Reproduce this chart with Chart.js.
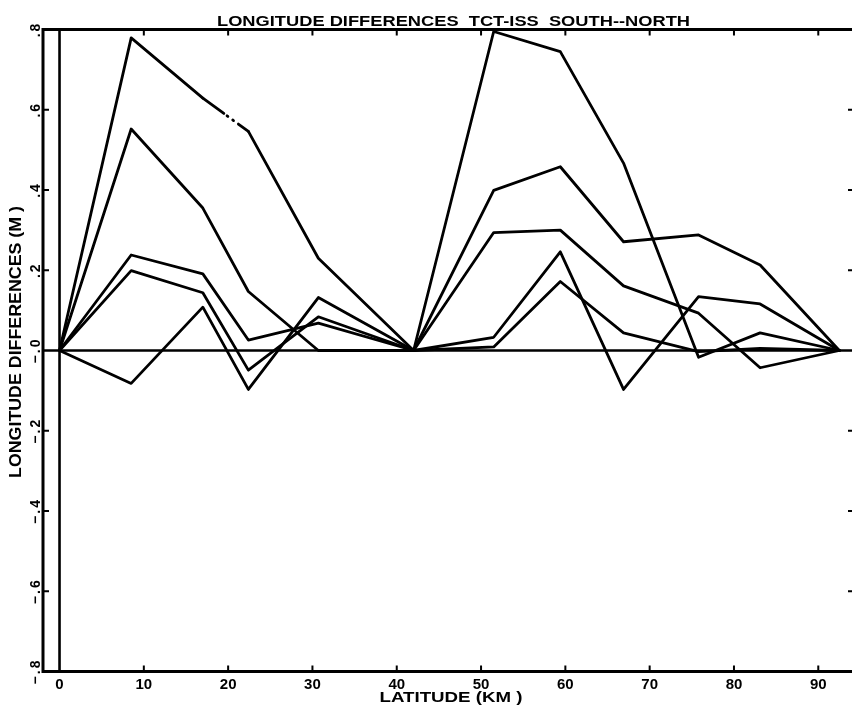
<!DOCTYPE html>
<html>
<head>
<meta charset="utf-8">
<script src="https://cdn.jsdelivr.net/npm/chart.js@4/dist/chart.umd.min.js"></script>
<style>
  html, body { margin: 0; padding: 0; background: #fff; }
  canvas { display: block; }
</style>
</head>
<body>
<canvas id="c" width="852" height="706"></canvas>
<script>
// Station latitudes along the profile (km)
const latitudeKm = [0, 8.5, 17.0, 22.4, 30.7, 42.0, 51.5, 59.4, 66.9, 75.8, 83.1, 92.5];

// Longitude differences TCT-ISS (m), one array per profile line
const seriesA = [0, 0.779, 0.629, 0.546, 0.230, 0, 0.795, 0.745, 0.467, -0.017, 0.044, 0];
const seriesB = [0, 0.552, 0.355, 0.147, 0.000, 0, 0.399, 0.458, 0.271, 0.288, 0.213, 0];
const seriesC = [0, 0.238, 0.191, 0.026, 0.068, 0, 0.294, 0.300, 0.161, 0.093, -0.043, 0];
const seriesD = [0, 0.199, 0.144, -0.049, 0.084, 0, 0.033, 0.246, -0.097, 0.134, 0.116, 0];
const seriesE = [0, -0.082, 0.108, -0.097, 0.132, 0, 0.009, 0.172, 0.044, -0.003, 0.005, 0];

// Axis ticks and labels
const xTickValues = [0, 10, 20, 30, 40, 50, 60, 70, 80, 90];
const yTickValues = [0.8, 0.6, 0.4, 0.2, 0, -0.2, -0.4, -0.6, -0.8];
const yTickLabels = ['.8', '.6', '.4', '.2', '\u2212.0', '\u2212.2', '\u2212.4', '\u2212.6', '\u2212.8'];

const chartTitle = 'LONGITUDE DIFFERENCES  TCT-ISS  SOUTH--NORTH';
const xTitle = 'LATITUDE (KM )';
const yTitle = 'LONGITUDE DIFFERENCES (M )';

const FONT = '"Liberation Sans", Arial, sans-serif';

function toPoints(values) {
  return values.map((v, i) => ({ x: latitudeKm[i], y: v }));
}

// Text squeezed or stretched horizontally to a given length
function fitText(ctx, text, cx, cy, width, size, rot) {
  ctx.save();
  ctx.font = `bold ${size}px ${FONT}`;
  ctx.textAlign = 'center';
  ctx.textBaseline = 'middle';
  ctx.fillStyle = '#000';
  ctx.translate(cx, cy);
  if (rot) ctx.rotate(rot);
  const w = ctx.measureText(text).width;
  ctx.scale(width / w, 1);
  ctx.fillText(text, 0, 0);
  ctx.restore();
}

// Box, zero lines, inward tick marks, rotated y labels and titles
const plotFrame = {
  id: 'plotFrame',
  beforeDatasetsDraw(chart) {
    const { ctx, chartArea: a, scales: { x, y } } = chart;
    ctx.save();
    ctx.strokeStyle = '#000';
    ctx.lineCap = 'butt';

    ctx.lineWidth = 3;
    ctx.beginPath();
    ctx.moveTo(a.right + 2, a.top);
    ctx.lineTo(a.left, a.top);
    ctx.lineTo(a.left, a.bottom);
    ctx.lineTo(a.right + 2, a.bottom);
    ctx.stroke();

    const x0 = x.getPixelForValue(0);
    const y0 = y.getPixelForValue(0);
    ctx.lineWidth = 2.6;
    ctx.beginPath();
    ctx.moveTo(x0, a.top);
    ctx.lineTo(x0, a.bottom);
    ctx.moveTo(a.left, y0);
    ctx.lineTo(a.right, y0);
    ctx.stroke();

    ctx.lineWidth = 2;
    ctx.beginPath();
    xTickValues.forEach(v => {
      if (v === 0) return;
      const px = x.getPixelForValue(v);
      ctx.moveTo(px, a.top);
      ctx.lineTo(px, a.top + 6);
      ctx.moveTo(px, a.bottom);
      ctx.lineTo(px, a.bottom - 6);
    });
    yTickValues.forEach(v => {
      if (v === 0 || Math.abs(v) === 0.8) return;
      const py = y.getPixelForValue(v);
      ctx.moveTo(a.left, py);
      ctx.lineTo(a.left + 6, py);
      ctx.moveTo(a.right, py);
      ctx.lineTo(a.right - 4, py);
    });
    ctx.stroke();

    ctx.fillStyle = '#000';
    ctx.font = `bold 14px ${FONT}`;
    ctx.textAlign = 'center';
    ctx.textBaseline = 'middle';
    if ('letterSpacing' in ctx) ctx.letterSpacing = '2px';
    yTickValues.forEach((v, i) => {
      const py = y.getPixelForValue(v);
      ctx.save();
      ctx.translate(a.left - 7, py);
      ctx.rotate(-Math.PI / 2);
      ctx.fillText(yTickLabels[i], 0, 0);
      ctx.restore();
    });
    ctx.restore();

    fitText(ctx, chartTitle, 453.5, 21.5, 473, 15.5, 0);
    fitText(ctx, xTitle, 451, 697.5, 143, 15, 0);
    fitText(ctx, yTitle, 16.5, 342, 272, 16.5, -Math.PI / 2);
  }
};

const lineStyle = {
  borderColor: '#000',
  borderWidth: 2.8,
  pointRadius: 0,
  tension: 0,
  fill: false,
  borderJoinStyle: 'round',
  borderCapStyle: 'round'
};

new Chart(document.getElementById('c'), {
  type: 'line',
  data: {
    datasets: [
      Object.assign({
        label: 'A', data: toPoints(seriesA),
        // pen skip between 17 and 22 km
        segment: { borderDash: ctx => ctx.p0DataIndex === 2 ? [26, 4, 1, 6, 1, 6, 40] : undefined }
      }, lineStyle),
      Object.assign({ label: 'B', data: toPoints(seriesB) }, lineStyle),
      Object.assign({ label: 'C', data: toPoints(seriesC) }, lineStyle),
      Object.assign({ label: 'D', data: toPoints(seriesD) }, lineStyle),
      Object.assign({ label: 'E', data: toPoints(seriesE) }, lineStyle)
    ]
  },
  options: {
    responsive: false,
    animation: false,
    devicePixelRatio: 1,
    layout: { padding: { left: 43, right: 0, top: 29.5, bottom: 0 } },
    plugins: { legend: { display: false }, tooltip: { enabled: false }, title: { display: false } },
    scales: {
      x: {
        type: 'linear',
        min: -1.96,
        max: 94.0,
        position: 'bottom',
        grid: { display: false, drawTicks: false },
        border: { display: false },
        afterBuildTicks: s => { s.ticks = xTickValues.map(v => ({ value: v })); },
        afterFit: s => { s.height = 34.5; },
        ticks: {
          autoSkip: false,
          maxRotation: 0,
          minRotation: 0,
          padding: 4,
          color: '#000',
          font: { family: FONT, size: 15, weight: 'bold' }
        }
      },
      y: {
        type: 'linear',
        min: -0.8,
        max: 0.8,
        display: false
      }
    }
  },
  plugins: [plotFrame]
});
</script>
</body>
</html>
